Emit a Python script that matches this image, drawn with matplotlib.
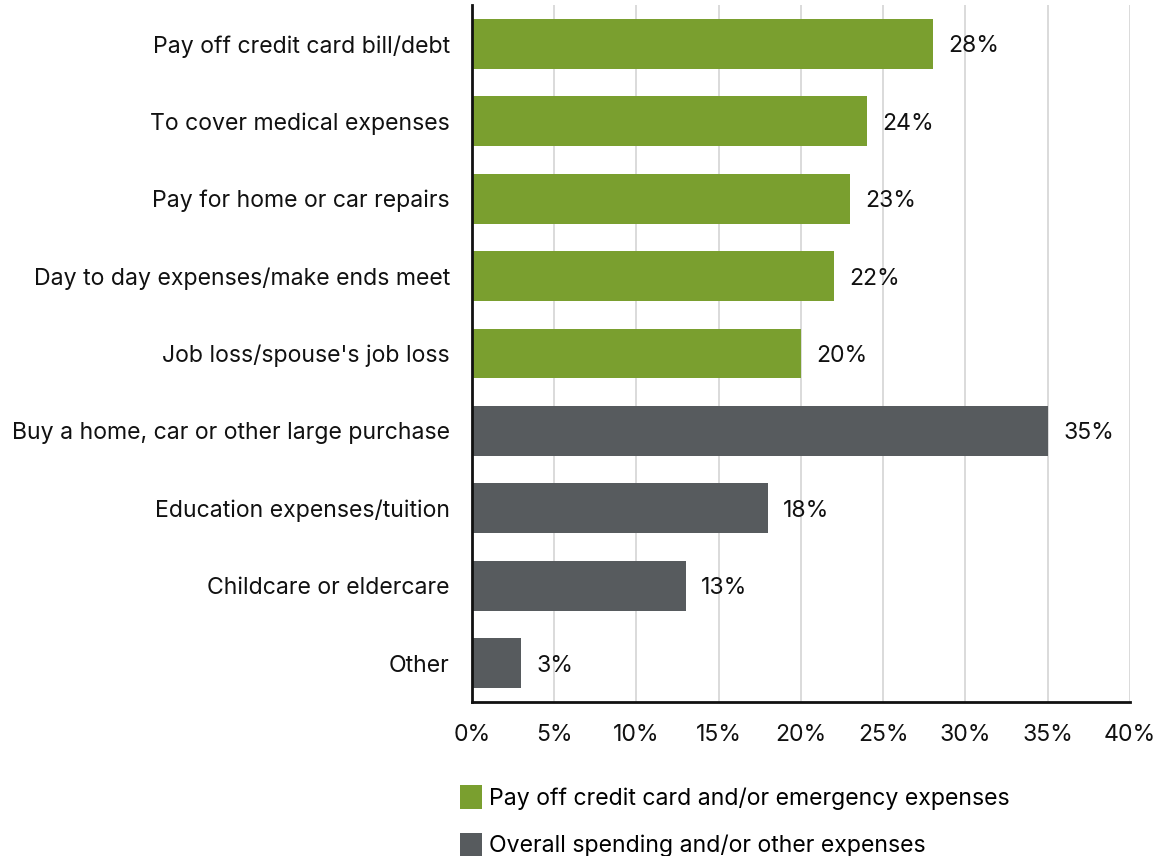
import matplotlib
matplotlib.use("Agg")
import matplotlib.pyplot as plt
from matplotlib.patches import Patch

categories = [
    "Pay off credit card bill/debt",
    "To cover medical expenses",
    "Pay for home or car repairs",
    "Day to day expenses/make ends meet",
    "Job loss/spouse's job loss",
    "Buy a home, car or other large purchase",
    "Education expenses/tuition",
    "Childcare or eldercare",
    "Other",
]
values = [28, 24, 23, 22, 20, 35, 18, 13, 3]
groups = ["emergency"] * 5 + ["other"] * 4
group_labels = {
    "emergency": "Pay off credit card and/or emergency expenses",
    "other": "Overall spending and/or other expenses",
}
group_colors = {"emergency": "#7a9f2f", "other": "#575b5e"}
x_ticks = [0, 5, 10, 15, 20, 25, 30, 35, 40]

plt.rcParams["font.family"] = ["Inter", "DejaVu Sans"]
TEXT = "#111111"
FS = 16.6

fig = plt.figure(figsize=(11.56, 8.56), dpi=100)
ax = fig.add_axes([0.4083, 0.180, 0.5692, 0.814])

ypos = list(range(len(categories)))
colors = [group_colors[g] for g in groups]
ax.barh(ypos, values, height=0.645, color=colors, zorder=3)

for y, v in zip(ypos, values):
    ax.annotate(f"{v}%", xy=(v, y), xytext=(11, 0), textcoords="offset points",
                va="center_baseline", ha="left", fontsize=FS, color=TEXT)

ax.set_ylim(len(categories) - 0.5, -0.5)
ax.set_xlim(0, 40)
ax.set_yticks(ypos)
ax.set_yticklabels(categories, fontsize=FS, color=TEXT, va="center_baseline")
ax.set_xticks(x_ticks)
ax.set_xticklabels([f"{t}%" for t in x_ticks], fontsize=FS, color=TEXT)
ax.tick_params(axis="both", length=0)
ax.tick_params(axis="y", pad=16)
ax.tick_params(axis="x", pad=16)

ax.grid(axis="x", color="#d4d4d4", linewidth=1.2, zorder=0)
ax.grid(axis="y", visible=False)
for side in ("top", "right"):
    ax.spines[side].set_visible(False)
for side in ("left", "bottom"):
    ax.spines[side].set_color("#111111")
    ax.spines[side].set_linewidth(2)
    ax.spines[side].set_zorder(4)

handles = [Patch(facecolor=group_colors[k], label=group_labels[k]) for k in ("emergency", "other")]
fig.legend(handles=handles, loc="upper left", bbox_to_anchor=(0.398, 0.083),
           frameon=False, fontsize=FS, handlelength=0.95, handleheight=1.2,
           handletextpad=0.3, labelspacing=1.0, borderaxespad=0, borderpad=0)

fig.savefig("out.png", dpi=100)
